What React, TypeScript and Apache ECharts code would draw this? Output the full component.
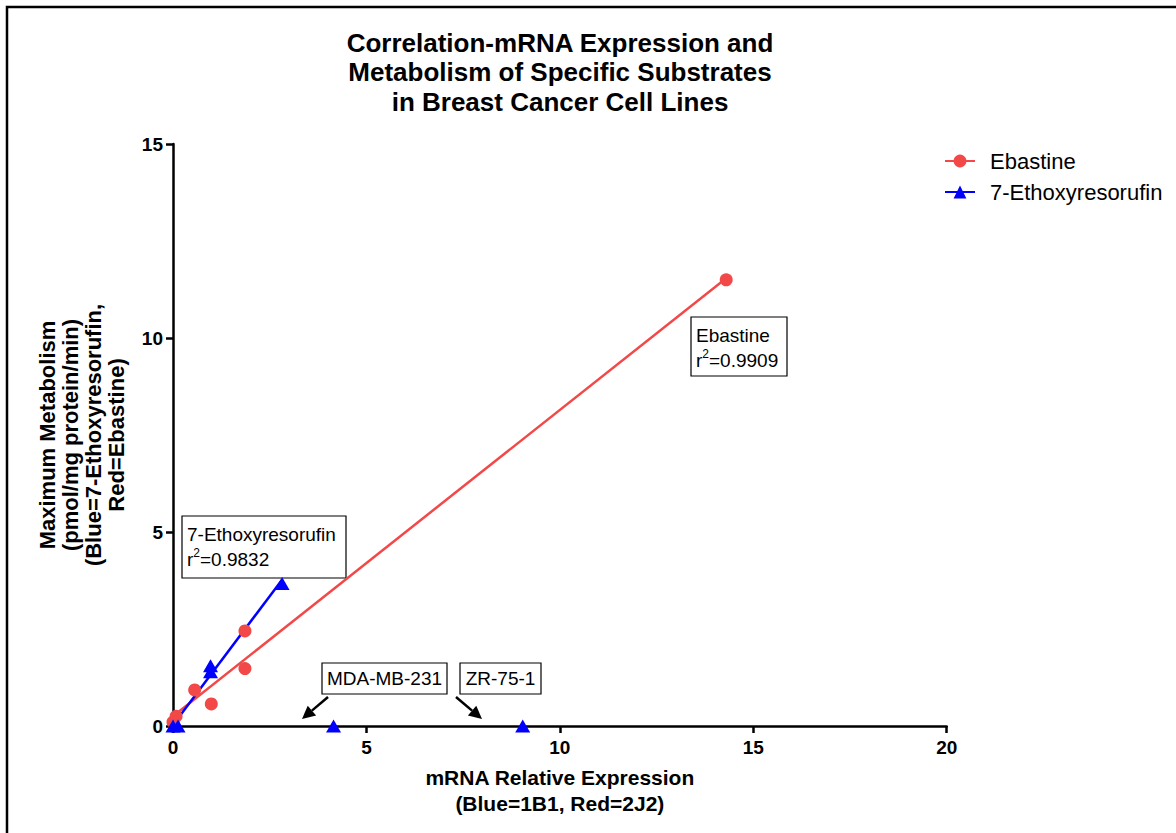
import React, { useEffect, useRef } from "react";
import * as echarts from "echarts";

// ---- Data ----
const ebastineX = [0, 0.08, 0.56, 0.99, 1.86, 1.86, 14.3];
const ebastineY = [0.1, 0.25, 0.93, 0.57, 1.48, 2.45, 11.5];
const ethoxyX = [0, 0.13, 0.97, 0.97, 2.82];
const ethoxyY = [0, 0, 1.55, 1.4, 3.67];
// cell lines excluded from the 7-Ethoxyresorufin fit
const ethoxyOutlierX = [4.15, 9.04];
const ethoxyOutlierY = [0, 0];
const seriesNames = ["Ebastine", "7-Ethoxyresorufin"];
const r2Values = ["0.9909", "0.9832"];
const cellLineLabels = ["MDA-MB-231", "ZR-75-1"];

const FONT = "'Liberation Sans', Arial, Helvetica, sans-serif";
const RED = "#F24848";
const BLUE = "#0000FF";

function linearFit(xs: number[], ys: number[]) {
  const n = xs.length;
  const mx = xs.reduce((a, b) => a + b, 0) / n;
  const my = ys.reduce((a, b) => a + b, 0) / n;
  let sxy = 0;
  let sxx = 0;
  for (let i = 0; i < n; i++) {
    sxy += (xs[i] - mx) * (ys[i] - my);
    sxx += (xs[i] - mx) * (xs[i] - mx);
  }
  const slope = sxy / sxx;
  const icpt = my - slope * mx;
  const x0 = Math.min(...xs);
  const x1 = Math.max(...xs);
  return [
    [x0, icpt + slope * x0],
    [x1, icpt + slope * x1],
  ];
}

function zip(xs: number[], ys: number[]) {
  return xs.map((x, i) => [x, ys[i]]);
}

function arrow(x1: number, y1: number, x2: number, y2: number) {
  const dx = x2 - x1;
  const dy = y2 - y1;
  const len = Math.sqrt(dx * dx + dy * dy);
  const ux = dx / len;
  const uy = dy / len;
  const headLen = 13;
  const halfW = 6.5;
  const bx = x2 - ux * headLen;
  const by = y2 - uy * headLen;
  return [
    {
      type: "line",
      shape: { x1, y1, x2: bx, y2: by },
      style: { stroke: "#000", lineWidth: 2.5 },
    },
    {
      type: "polygon",
      shape: {
        points: [
          [x2, y2],
          [bx - uy * halfW, by + ux * halfW],
          [bx + uy * halfW, by - ux * halfW],
        ],
      },
      style: { fill: "#000" },
    },
  ];
}

function fitBox(x: number, y: number, w: number, h: number, name: string, r2: string) {
  return {
    type: "group",
    x,
    y,
    children: [
      {
        type: "rect",
        shape: { x: 0, y: 0, width: w, height: h },
        style: { fill: "#fff", stroke: "#000", lineWidth: 1.2 },
      },
      {
        type: "text",
        x: 5,
        y: 6,
        style: {
          text: `{n|${name}}\n{n|r}{s|2}{n|=${r2}}`,
          fontFamily: FONT,
          fill: "#000",
          rich: {
            n: { fontSize: 19, fontFamily: FONT, lineHeight: 25, fill: "#000" },
            s: {
              fontSize: 12,
              fontFamily: FONT,
              lineHeight: 25,
              fill: "#000",
              verticalAlign: "top",
              padding: [0, 0, 8, 0],
            },
          },
        },
      },
    ],
  };
}

function labelBox(x: number, y: number, w: number, h: number, text: string) {
  return {
    type: "group",
    x,
    y,
    children: [
      {
        type: "rect",
        shape: { x: 0, y: 0, width: w, height: h },
        style: { fill: "#fff", stroke: "#000", lineWidth: 1.2 },
      },
      {
        type: "text",
        x: w / 2,
        y: h / 2,
        style: {
          text,
          fontFamily: FONT,
          fontSize: 19,
          fill: "#000",
          align: "center",
          verticalAlign: "middle",
        },
      },
    ],
  };
}

export default function App() {
  const ref = useRef<HTMLDivElement>(null);

  useEffect(() => {
    document.body.style.margin = "0";
    const chart = echarts.init(ref.current!, null, { renderer: "svg" });

    const ebFit = linearFit(ebastineX, ebastineY);
    const etFit = linearFit(ethoxyX, ethoxyY);

    chart.setOption({
      animation: false,
      backgroundColor: "#fff",
      title: {
        text: "Correlation-mRNA Expression and\nMetabolism of Specific Substrates\nin Breast Cancer Cell Lines",
        left: 560,
        top: 28,
        padding: 0,
        textAlign: "center",
        textStyle: {
          fontFamily: FONT,
          fontWeight: "bold",
          fontSize: 26,
          lineHeight: 29.5,
          color: "#000",
        },
      },
      legend: {
        orient: "vertical",
        left: 944,
        top: 150,
        padding: 0,
        itemWidth: 30,
        itemHeight: 16,
        itemGap: 9,
        data: seriesNames,
        textStyle: { fontFamily: FONT, fontSize: 22, color: "#000", padding: [0, 0, 0, 10] },
      },
      grid: {
        left: 173,
        top: 144,
        right: 1176 - 946.7,
        bottom: 833 - 726,
        containLabel: false,
      },
      xAxis: {
        type: "value",
        min: 0,
        max: 20,
        interval: 5,
        name: "mRNA Relative Expression\n(Blue=1B1, Red=2J2)",
        nameLocation: "middle",
        nameGap: 38,
        nameTextStyle: {
          fontFamily: FONT,
          fontWeight: "bold",
          fontSize: 21,
          lineHeight: 26,
          color: "#000",
        },
        splitLine: { show: false },
        axisLine: { lineStyle: { color: "#000", width: 2.5 } },
        axisTick: { show: true, length: 7, lineStyle: { color: "#000", width: 2.5 } },
        axisLabel: {
          fontFamily: FONT,
          fontWeight: "bold",
          fontSize: 19,
          color: "#000",
          margin: 12,
        },
      },
      yAxis: {
        type: "value",
        min: 0,
        max: 15,
        interval: 5,
        name: "Maximum Metabolism\n(pmol/mg protein/min)\n(Blue=7-Ethoxyresorufin,\nRed=Ebastine)",
        nameLocation: "middle",
        nameGap: 45,
        nameTextStyle: {
          fontFamily: FONT,
          fontWeight: "bold",
          fontSize: 22,
          lineHeight: 23,
          color: "#000",
        },
        splitLine: { show: false },
        axisLine: { show: true, lineStyle: { color: "#000", width: 2.5 } },
        axisTick: { show: true, length: 7, lineStyle: { color: "#000", width: 2.5 } },
        axisLabel: {
          fontFamily: FONT,
          fontWeight: "bold",
          fontSize: 19,
          color: "#000",
          margin: 10,
        },
      },
      series: [
        {
          name: seriesNames[0],
          type: "line",
          data: ebFit,
          symbol: "circle",
          showSymbol: false,
          color: RED,
          lineStyle: { color: RED, width: 2.5 },
          z: 3,
        },
        {
          name: seriesNames[1],
          type: "line",
          data: etFit,
          symbol: "triangle",
          showSymbol: false,
          color: BLUE,
          lineStyle: { color: BLUE, width: 2.5 },
          z: 4,
        },
        {
          name: seriesNames[0],
          type: "scatter",
          data: zip(ebastineX, ebastineY),
          symbol: "circle",
          symbolSize: 13,
          itemStyle: { color: RED, opacity: 1 },
          clip: false,
          z: 5,
        },
        {
          name: seriesNames[1],
          type: "scatter",
          data: zip(ethoxyX, ethoxyY).concat(zip(ethoxyOutlierX, ethoxyOutlierY)),
          symbol: "triangle",
          symbolSize: [15, 13],
          itemStyle: { color: BLUE, opacity: 1 },
          clip: false,
          z: 6,
        },
      ],
      graphic: [
        {
          type: "polyline",
          shape: { points: [[7, 900], [7, 7], [1300, 7]] },
          style: { stroke: "#000", lineWidth: 2.5, fill: "none" },
        },
        fitBox(691, 317, 96, 59, seriesNames[0], r2Values[0]),
        fitBox(182, 516, 164, 62, seriesNames[1], r2Values[1]),
        labelBox(322, 663, 125, 31, cellLineLabels[0]),
        labelBox(460, 663, 81, 31, cellLineLabels[1]),
        ...arrow(328, 697, 302, 719),
        ...arrow(456, 697, 482, 719),
      ],
    });

    return () => chart.dispose();
  }, []);

  return <div ref={ref} style={{ width: 1176, height: 833, background: "#fff" }} />;
}
